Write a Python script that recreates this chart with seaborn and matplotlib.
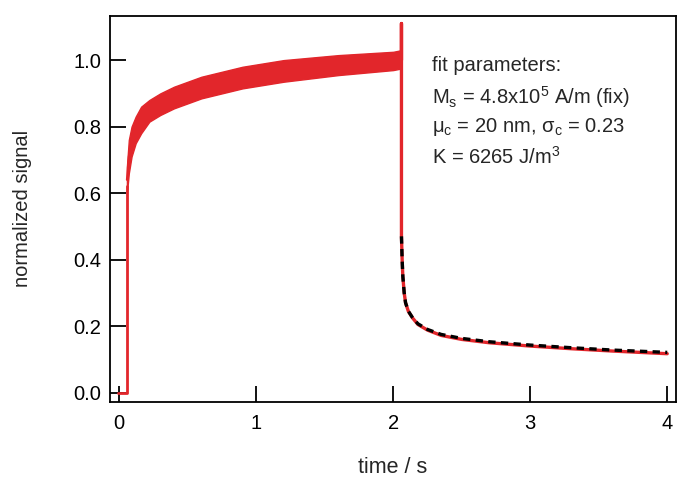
import numpy as np
import pandas as pd
import matplotlib
matplotlib.use("Agg")
import matplotlib.pyplot as plt
import seaborn as sns

# ---- data ----
# baseline before the field is switched on, and the jump
lead_t = [-0.01, 0.056, 0.056]
lead_y = [0.0, 0.0, 0.62]

# noisy magnetisation band while the field is on (upper / lower envelope)
band_t = [0.056, 0.07, 0.09, 0.12, 0.16, 0.22, 0.30, 0.40, 0.60, 0.90, 1.20, 1.60, 2.00, 2.06]
band_upper = [0.68, 0.76, 0.80, 0.83, 0.86, 0.88, 0.90, 0.92, 0.95, 0.98, 1.00, 1.015, 1.025, 1.03]
band_lower = [0.60, 0.66, 0.71, 0.75, 0.78, 0.815, 0.835, 0.855, 0.885, 0.915, 0.935, 0.955, 0.97, 0.975]

# switch-off spike
spike_t = [2.06, 2.06, 2.06]
spike_y = [1.00, 1.11, 0.47]

# relaxation after switch-off (measured and fit)
decay_t = [2.06, 2.065, 2.07, 2.08, 2.09, 2.11, 2.14, 2.18, 2.25, 2.35, 2.50, 2.70, 3.00, 3.30, 3.60, 4.00]
decay_y = [0.47, 0.40, 0.35, 0.30, 0.27, 0.245, 0.225, 0.205, 0.188, 0.172, 0.160, 0.150, 0.140, 0.132, 0.125, 0.117]
fit_y = [0.47, 0.40, 0.35, 0.30, 0.27, 0.245, 0.226, 0.207, 0.190, 0.175, 0.163, 0.153, 0.143, 0.135, 0.128, 0.121]

x_ticks = [0, 1, 2, 3, 4]
y_ticks = [0.0, 0.2, 0.4, 0.6, 0.8, 1.0]
y_ticklabels = ["0.0", "0.2", "0.4", "0.6", "0.8", "1.0"]

sns.set_style("ticks")
plt.rcParams["font.family"] = ["Liberation Sans", "DejaVu Sans"]
plt.rcParams["mathtext.fontset"] = "custom"
plt.rcParams["mathtext.rm"] = "Liberation Sans"

RED = "#E2262B"

fig = plt.figure(figsize=(6.87, 4.86), dpi=100)
ax = fig.add_axes([0.160, 0.173, 0.824, 0.795])

mid = [(u + l) / 2 for u, l in zip(band_upper, band_lower)]
ax.fill_between(band_t, band_lower, band_upper, color=RED, linewidth=1.0, edgecolor=RED)

trace = pd.DataFrame({
    "t": lead_t + spike_t + decay_t,
    "y": lead_y + spike_y + decay_y,
    "seg": ["a"] * len(lead_t) + ["b"] * (len(spike_t) + len(decay_t)),
})
sns.lineplot(data=trace[trace.seg == "a"], x="t", y="y", sort=False, color=RED, lw=2.0, ax=ax, estimator=None)
sns.lineplot(data=trace[trace.seg == "b"], x="t", y="y", sort=False, color=RED, lw=2.4, ax=ax, estimator=None)
sns.lineplot(x=band_t, y=mid, sort=False, color=RED, lw=1.5, ax=ax, estimator=None)

fit = pd.DataFrame({"t": decay_t, "y": fit_y})
sns.lineplot(data=fit, x="t", y="y", sort=False, color="black", lw=2.4, ax=ax,
             estimator=None, dashes=False, linestyle=(0, (2.2, 1.6)))

ax.set_xlim(-0.068, 4.064)
ax.set_ylim(-0.028, 1.134)
ax.set_xticks(x_ticks)
ax.set_xticklabels([str(v) for v in x_ticks])
ax.set_yticks(y_ticks)
ax.set_yticklabels(y_ticklabels)
ax.tick_params(direction="in", length=11.5, width=1.3, labelsize=14.5, colors="black")
ax.tick_params(axis="x", pad=9)
ax.tick_params(axis="y", pad=6)
for s in ax.spines.values():
    s.set_visible(True)
    s.set_linewidth(1.3)
    s.set_color("black")

ax.set_xlabel("time / s", fontsize=15.5, labelpad=17)
ax.set_ylabel("normalized signal", fontsize=14.5, labelpad=30)

txt_x = 2.28
lines = [
    "fit parameters:",
    r"M$_\mathregular{s}$ = 4.8x10$^\mathregular{5}$ A/m (fix)",
    r"μ$_\mathregular{c}$ = 20 nm, σ$_\mathregular{c}$ = 0.23",
    r"K = 6265 J/m$^\mathregular{3}$",
]
ys = [0.983, 0.89, 0.80, 0.71]
for s, yv in zip(lines, ys):
    ax.text(txt_x, yv, s, fontsize=14.5, ha="left", va="center")

fig.savefig("out.png", dpi=100)
